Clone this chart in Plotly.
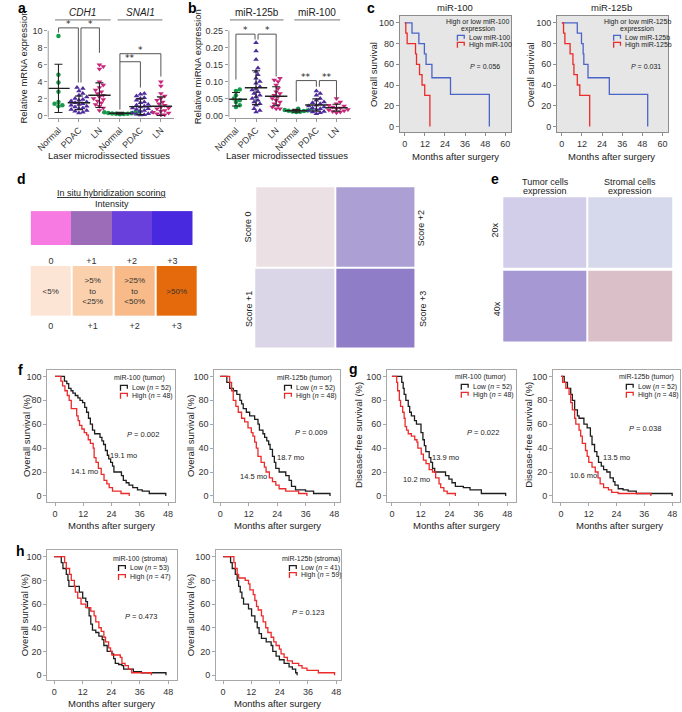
import plotly.graph_objects as go

W, H = 682, 712
FONT = "Liberation Sans, Arial, Helvetica, sans-serif"

# ---------------- data ----------------
# panel a: laser microdissected tissues, relative mRNA expression
a_ticks = ["Normal", "PDAC", "LN", "Normal", "PDAC", "LN"]
cdh1_normal = [9.4, 4.8, 3.9, 2.8, 1.6, 1.4, 1.2, 1.1]
cdh1_pdac = [3.3, 3.2, 2.9, 2.6, 2.4, 2.2, 2.0, 1.9, 1.8, 1.7, 1.6, 1.5,
             1.4, 1.3, 1.2, 1.1, 1.0, 0.9, 0.8, 0.7, 0.6, 0.5, 0.4, 0.3]
cdh1_ln = [6.0, 5.8, 5.5, 4.0, 3.6, 3.3, 3.0, 2.8, 2.6, 2.4, 2.2, 2.0,
           1.9, 1.7, 1.5, 1.3, 1.1, 0.9, 0.6]
snai1_normal = [0.45, 0.4, 0.35, 0.3, 0.28, 0.25, 0.22, 0.2, 0.18, 0.15]
snai1_pdac = [2.6, 2.5, 2.3, 2.1, 2.0, 1.8, 1.6, 1.5, 1.3, 1.2, 1.1, 1.0,
              0.9, 0.8, 0.7, 0.6, 0.5, 0.4, 0.3, 0.2, 0.15, 0.1, 0.05]
snai1_ln = [4.0, 3.5, 2.6, 2.3, 2.0, 1.8, 1.6, 1.4, 1.2, 1.0, 0.9, 0.8,
            0.6, 0.5, 0.4, 0.3, 0.2, 0.1, 0.05]
a_means = [3.2, 1.5, 2.4, 0.27, 1.05, 1.1]
a_sds = [2.85, 0.8, 1.45, 0.1, 0.95, 1.1]

# panel b: relative miRNA expression
mir125_normal = [0.077, 0.072, 0.06, 0.05, 0.045, 0.04, 0.03, 0.025]
mir125_pdac = [0.215, 0.19, 0.165, 0.14, 0.13, 0.12, 0.11, 0.1, 0.095, 0.085,
               0.08, 0.075, 0.07, 0.065, 0.06, 0.055, 0.05, 0.045, 0.04,
               0.035, 0.03, 0.02, 0.015, 0.01]
mir125_ln = [0.11, 0.105, 0.1, 0.09, 0.08, 0.07, 0.065, 0.06, 0.055, 0.05,
             0.045, 0.04, 0.035, 0.03, 0.025, 0.02, 0.02]
mir100_normal = [0.02, 0.018, 0.016, 0.015, 0.014, 0.013, 0.012, 0.011, 0.01]
mir100_pdac = [0.072, 0.065, 0.06, 0.05, 0.045, 0.04, 0.038, 0.035, 0.03,
               0.028, 0.025, 0.022, 0.02, 0.018, 0.015, 0.012, 0.01, 0.008,
               0.005]
mir100_ln = [0.05, 0.04, 0.035, 0.03, 0.028, 0.025, 0.022, 0.02, 0.018,
             0.016, 0.014, 0.012, 0.01, 0.008]
b_means = [0.048, 0.082, 0.057, 0.014, 0.031, 0.023]
b_sds = [0.02, 0.05, 0.028, 0.004, 0.018, 0.01]

# panel c: overall survival, laser microdissected cohort
c1_low_t = [0, 4.3, 8.4, 11.7, 12.7, 16.2, 27.3, 50.5]
c1_low_s = [100, 90, 80, 70, 60, 47, 31, 0]
c1_high_t = [0, 0.6, 1.4, 6.4, 7.0, 8.8, 10.3, 11.9, 15.0]
c1_high_s = [100, 90, 80, 70, 60, 50, 40, 30, 0]
c2_low_t = [0, 9.2, 11.7, 12.7, 13.1, 15.6, 28.3, 51.2]
c2_low_s = [100, 90, 80, 70, 60, 47, 31, 0]
c2_high_t = [0, 1.0, 1.8, 4.9, 6.6, 7.2, 9.2, 10.7, 16.6]
c2_high_s = [100, 90, 80, 70, 60, 50, 40, 30, 0]

# panel d: scoring scale
intensity_scores = ["0", "+1", "+2", "+3"]
percent_labels = ["<5%", ">5%<br>to<br><25%", ">25%<br>to<br><50%", ">50%"]

# panel f: overall survival by tumor expression
f1_low_t = [0, 4.0, 5.0, 5.8, 6.8, 7.6, 8.6, 9.7, 10.6, 11.7, 12.6, 13.4, 14.2,
            15.0, 15.9, 16.8, 19.1, 19.9, 20.6, 21.4, 22.2, 22.8, 23.6, 24.4,
            25.0, 28.2, 29.0, 30.2, 31.4, 33.0, 35.0, 37.0, 40.0, 47.0]
f1_low_s = [100, 96, 94, 90, 88, 86, 84, 82, 80, 78, 74, 70, 65, 60, 55, 52,
            49, 46, 43, 38, 34, 31, 28, 25, 20, 17, 13, 11, 9, 7, 5, 4, 2, 0]
f1_high_t = [0, 2.5, 3.2, 4.2, 5.2, 6.0, 6.9, 9.2, 9.8, 10.4, 11.4, 12.4, 13.4,
             14.1, 15.0, 16.2, 16.6, 17.4, 18.4, 19.6, 20.8, 22.0, 23.0, 24.4,
             28.0, 31.5]
f1_high_s = [100, 96, 92, 88, 84, 80, 73, 67, 63, 59, 56, 53, 51, 47, 44, 40,
             32, 28, 23, 18, 13, 10, 7, 4, 2, 0]
f2_low_t = [0, 2.8, 4.0, 5.5, 7.0, 8.3, 9.0, 9.7, 11.0, 12.4, 14.5, 15.9, 16.5,
            18.0, 18.7, 19.6, 20.4, 21.0, 22.0, 22.8, 23.4, 24.8, 27.6, 29.0,
            30.0, 31.7, 35.9, 39.3, 46.2]
f2_low_s = [100, 95, 90, 88, 85, 80, 77, 73, 70, 67, 64, 60, 55, 52, 49, 46,
            43, 39, 33, 28, 23, 20, 17, 13, 8, 5, 4, 2, 0]
f2_high_t = [0, 4.0, 4.8, 5.5, 6.6, 7.6, 9.0, 10.3, 11.7, 13.1, 13.8, 14.5,
             15.2, 15.9, 17.2, 18.6, 19.3, 20.7, 22.0, 23.4, 24.8, 27.6, 33.0,
             36.5]
f2_high_s = [100, 95, 88, 80, 75, 70, 65, 62, 57, 53, 50, 45, 40, 33, 28, 24,
             20, 15, 12, 9, 6, 4, 2, 0]

# panel g: disease-free survival by tumor expression
g1_low_t = [0, 4.1, 4.7, 5.1, 5.8, 6.8, 7.4, 8.1, 9.4, 10.2, 12.1, 12.9, 13.5,
            14.1, 15.5, 16.2, 16.9, 17.8, 22.3, 23.7, 25.0, 26.4, 29.7, 32.5,
            37.2, 47.3]
g1_low_s = [100, 95, 90, 85, 80, 75, 70, 67, 63, 60, 53, 47, 42, 37, 32, 28,
            23, 20, 17, 14, 11, 8, 7, 5, 2, 0]
g1_high_t = [0, 2.0, 2.4, 3.1, 3.6, 4.5, 5.1, 5.5, 6.1, 6.8, 8.1, 9.5, 10.4,
             10.8, 12.2, 13.1, 14.2, 15.5, 16.9, 18.2, 19.6, 20.3, 21.6, 23.0,
             26.4]
g1_high_s = [100, 95, 88, 80, 75, 70, 65, 58, 55, 52, 50, 47, 45, 40, 35, 30,
             27, 22, 20, 15, 10, 7, 4, 2, 0]
g2_low_t = [0, 1.4, 2.8, 4.2, 4.9, 5.9, 7.1, 7.8, 9.9, 11.3, 12.7, 13.4, 14.5,
            15.5, 16.2, 17.4, 18.4, 19.8, 21.2, 22.6, 23.3, 24.7, 26.8, 29.0,
            32.5, 48.0]
g2_low_s = [100, 95, 90, 85, 80, 72, 67, 65, 60, 57, 50, 43, 37, 33, 28, 25,
            22, 20, 15, 12, 9, 6, 5, 4, 2, 0]
g2_high_t = [0, 0.7, 2.1, 3.5, 4.2, 4.9, 5.9, 6.4, 7.8, 8.5, 9.2, 10.6, 11.3,
             12.0, 13.4, 14.8, 16.0, 16.9, 18.4, 20.5, 21.9, 24.7, 38.8]
g2_high_s = [100, 95, 90, 85, 78, 72, 65, 60, 55, 50, 44, 38, 33, 28, 24, 20,
             15, 10, 7, 5, 3, 2, 0]

# panel h: overall survival by stromal expression
h1_low_t = [0, 3.0, 3.7, 5.1, 5.8, 6.2, 10.6, 12.0, 13.3, 14.0, 14.7, 15.4,
            16.1, 17.5, 18.8, 20.2, 20.9, 22.3, 24.3, 25.0, 25.7, 27.1, 28.5,
            29.2, 33.3, 36.7, 47.0]
h1_low_s = [100, 95, 90, 85, 80, 75, 70, 65, 62, 57, 50, 43, 38, 36, 33, 30,
            25, 20, 18, 14, 10, 9, 8, 5, 3, 2, 0]
h1_high_t = [0, 4.4, 5.1, 6.5, 7.2, 8.5, 8.9, 9.9, 11.3, 13.3, 15.4, 16.8,
             17.5, 18.8, 19.8, 20.9, 21.6, 22.9, 23.7, 24.3, 27.8, 28.5, 29.8,
             31.2, 32.6, 40.9]
h1_high_s = [100, 95, 90, 85, 80, 75, 70, 65, 60, 57, 54, 50, 45, 40, 37, 32,
             28, 23, 20, 17, 15, 10, 8, 5, 2, 0]
h2_low_t = [0, 3.2, 3.9, 5.2, 6.0, 6.6, 7.3, 8.0, 8.7, 10.8, 12.1, 13.5, 14.5,
            15.3, 16.3, 18.3, 20.4, 21.1, 22.5, 23.9, 25.9, 28.0, 29.4, 30.8,
            31.4]
h2_low_s = [100, 95, 90, 85, 80, 75, 70, 65, 60, 56, 50, 45, 40, 35, 31, 28,
            25, 20, 16, 13, 10, 7, 5, 2, 0]
h2_high_t = [0, 4.6, 5.2, 6.0, 6.6, 9.4, 10.8, 11.4, 12.8, 13.5, 14.2, 14.9,
             16.3, 17.0, 18.1, 19.0, 20.4, 21.5, 22.5, 23.9, 24.6, 25.9, 27.3,
             29.4, 32.1, 33.5, 35.6, 40.4, 47.3]
h2_high_s = [100, 95, 90, 85, 82, 80, 77, 72, 68, 63, 58, 55, 50, 45, 40, 36,
             32, 28, 25, 22, 18, 15, 12, 10, 8, 6, 4, 2, 0]

# ---------------- helpers ----------------
fig = go.Figure()
layout = dict(width=W, height=H, margin=dict(l=0, r=0, t=0, b=0),
              paper_bgcolor="white", plot_bgcolor="white", showlegend=False,
              font=dict(family=FONT, size=9, color="#222"))
shapes = []
annotations = []

GREEN, PURPLE, MAGENTA = "#169a4c", "#4e2c9c", "#c8267a"
BLACK, RED, BLUE = "#1e1e1e", "#ec2a2a", "#4a64c8"


def xid(n):
    return "x" if n == 1 else f"x{n}"


def yid(n):
    return "y" if n == 1 else f"y{n}"


def set_axes(n, box, xa, ya):
    x0, x1, y0, y1 = box
    xa.update(domain=[x0 / W, x1 / W], anchor=yid(n))
    ya.update(domain=[1 - y1 / H, 1 - y0 / H], anchor=xid(n))
    layout["xaxis" if n == 1 else f"xaxis{n}"] = xa
    layout["yaxis" if n == 1 else f"yaxis{n}"] = ya


def txt(s, x, y, size=9, angle=0, xanchor="center", color="#222", bold=False):
    if bold:
        s = f"<b>{s}</b>"
    annotations.append(dict(text=s, x=x / W, y=1 - y / H, xref="paper",
                            yref="paper", showarrow=False, textangle=angle,
                            xanchor=xanchor, yanchor="middle",
                            font=dict(size=size, family=FONT, color=color)))


def pline(x0, y0, x1, y1, color="#555", width=1):
    shapes.append(dict(type="line", xref="paper", yref="paper",
                       x0=x0 / W, y0=1 - y0 / H, x1=x1 / W, y1=1 - y1 / H,
                       line=dict(color=color, width=width)))


def prect(x0, y0, x1, y1, fill):
    shapes.append(dict(type="rect", xref="paper", yref="paper",
                       x0=x0 / W, y0=1 - y1 / H, x1=x1 / W, y1=1 - y0 / H,
                       fillcolor=fill, line=dict(width=0)))


def icon(x, y, color):
    def p(px_, py_):
        return f"{px_ / W:.5f},{1 - py_ / H:.5f}"
    path = f"M{p(x, y + 3)} L{p(x, y - 2.5)} L{p(x + 7, y - 2.5)} L{p(x + 7, y + 1)}"
    shapes.append(dict(type="path", xref="paper", yref="paper", path=path,
                       line=dict(color=color, width=1.3)))


def bracket(n, xl, xr, top, yl, yr):
    shapes.append(dict(type="path", xref=xid(n), yref=yid(n),
                       path=f"M{xl},{yl} L{xl},{top} L{xr},{top} L{xr},{yr}",
                       line=dict(color="#555", width=1)))


def stars(n, pos):
    for xs, ys, k in pos:
        annotations.append(dict(text="*" * k, x=xs, y=ys, xref=xid(n), yref=yid(n),
                                showarrow=False,
                                font=dict(size=9, family="DejaVu Sans", color="#222")))


def swarm(vals, ppu_y, ppu_x=21.0, gap=3.6, step=2.0):
    placed, offs = [], [0.0] * len(vals)
    cands = [0.0]
    for k in range(1, 30):
        cands += [k * step, -k * step]
    for i in sorted(range(len(vals)), key=lambda j: vals[j]):
        yy = vals[i] * ppu_y
        for c in cands:
            if all((c - a) ** 2 + (yy - b) ** 2 >= gap ** 2 for a, b in placed):
                break
        placed.append((c, yy))
        offs[i] = c / ppu_x
    return offs


def dot_panel(n, box, xr, yr, groups, means, sds, ytick, yfmt, ppu_y, ymax):
    sym = ["circle", "triangle-up", "triangle-down"] * 2
    col = [GREEN, PURPLE, MAGENTA] * 2
    for k, vals in enumerate(groups):
        offs = swarm(vals, ppu_y)
        fig.add_trace(go.Scatter(
            x=[k + o for o in offs], y=vals, mode="markers",
            marker=dict(symbol=sym[k], size=4.5 if k % 3 == 0 else 5, color=col[k]),
            xaxis=xid(n), yaxis=yid(n), hoverinfo="skip"))
    fig.add_trace(go.Scatter(
        x=list(range(6)), y=means, mode="markers",
        marker=dict(symbol="line-ew", size=16, line=dict(width=1.4, color="#222")),
        error_y=dict(type="data", array=sds, visible=True, color="#222",
                     thickness=1.1, width=4),
        xaxis=xid(n), yaxis=yid(n), hoverinfo="skip"))
    axc = dict(showgrid=False, zeroline=False, ticks="outside", ticklen=3,
               tickcolor="#999", tickfont=dict(size=9, color="#333"))
    set_axes(n, box,
             dict(range=xr, tickvals=list(range(6)), ticktext=a_ticks,
                  tickangle=-45, showline=True, linecolor="#999", **axc),
             dict(range=yr, tickvals=ytick, tickformat=yfmt, showline=False, **axc))
    shapes.append(dict(type="line", xref=f"{xid(n)} domain", yref=yid(n),
                       x0=0, x1=0, y0=yr[0], y1=ymax,
                       line=dict(color="#999", width=1)))


AX_KM = dict(showgrid=False, zeroline=False, ticks="outside", ticklen=3,
             showline=True, mirror=True, linewidth=1,
             tickfont=dict(size=9, color="#333"))


def km_panel(n, box, xr, yr, curves, xmax=48, frame="#a8a8a8", bg=None):
    set_axes(n, box,
             dict(range=xr, tickvals=list(range(0, xmax + 1, 12)),
                  linecolor=frame, tickcolor=frame, **AX_KM),
             dict(range=yr, tickvals=[0, 20, 40, 60, 80, 100],
                  linecolor=frame, tickcolor=frame, **AX_KM))
    if bg:
        shapes.append(dict(type="rect", xref=f"{xid(n)} domain",
                           yref=f"{yid(n)} domain", x0=0, x1=1, y0=0, y1=1,
                           fillcolor=bg, line=dict(width=0), layer="below"))
    for t, s, c in curves:
        fig.add_trace(go.Scatter(x=t, y=s, mode="lines",
                                 line=dict(shape="hv", color=c, width=1.3),
                                 xaxis=xid(n), yaxis=yid(n), hoverinfo="skip"))


# ---------------- panel a ----------------
dot_panel(1, (33, 162, 20, 118), [-0.5, 5.65], [-0.235, 11.29],
          [cdh1_normal, cdh1_pdac, cdh1_ln, snai1_normal, snai1_pdac, snai1_ln],
          a_means, a_sds, [0, 2, 4, 6, 8, 10], None, 8.5, 10)
bracket(1, 0, 0.97, 10.35, 9.8, 3.9)
bracket(1, 1.1, 2, 10.35, 3.9, 7.4)
bracket(1, 3, 4, 6.35, 0.7, 3.3)
bracket(1, 3, 5, 7.3, 6.35, 4.6)
stars(1, [(0.5, 10.75, 1), (1.55, 10.75, 1), (3.5, 6.75, 2), (4.0, 7.7, 1)])
txt("<i>CDH1</i>", 68, 13, size=10)
txt("<i>SNAI1</i>", 127, 13, size=10)
pline(40, 20, 97, 20, "#777")
pline(104, 20, 150, 20, "#777")
txt("Relative mRNA expression", 8, 67, size=9.5, angle=-90)
txt("Laser microdissected tissues", 95, 156, size=9.5)

# ---------------- panel b ----------------
dot_panel(2, (218, 343, 20, 118), [-0.35, 5.72], [-0.0059, 0.282],
          [mir125_normal, mir125_pdac, mir125_ln, mir100_normal, mir100_pdac, mir100_ln],
          b_means, b_sds, [0, 0.05, 0.1, 0.15, 0.2, 0.25], ".2f", 340, 0.25)
bracket(2, 0, 0.95, 0.24, 0.106, 0.224)
bracket(2, 1.1, 2, 0.24, 0.224, 0.115)
bracket(2, 3, 4, 0.103, 0.041, 0.085)
bracket(2, 4.15, 5, 0.103, 0.085, 0.047)
stars(2, [(0.5, 0.252, 1), (1.55, 0.252, 1), (3.5, 0.114, 2), (4.55, 0.114, 2)])
txt("miR-125b", 247, 13, size=10)
txt("miR-100", 308, 13, size=10)
pline(219, 20, 274, 20, "#777")
pline(285, 20, 332, 20, "#777")
txt("Relative miRNA expression", 186, 67, size=9.5, angle=-90)
txt("Laser microdissected tissues", 277, 156, size=9.5)

# ---------------- panel c ----------------
km_panel(3, (393, 507, 16, 133), [-3, 63.5], [-5.8, 106.7],
         [(c1_low_t, c1_low_s, BLUE), (c1_high_t, c1_high_s, RED)],
         xmax=60, frame="#8c8c8c", bg="#e6e6e6")
km_panel(4, (554, 668, 16, 133), [-2.9, 63.5], [-5.8, 106.7],
         [(c2_low_t, c2_low_s, BLUE), (c2_high_t, c2_high_s, RED)],
         xmax=60, frame="#8c8c8c", bg="#e6e6e6")
txt("miR-100", 450, 8, size=9.5)
txt("miR-125b", 610, 8, size=9.5)
txt("Overall survival", 366, 75, size=9.5, angle=-90)
txt("Overall survival", 527, 75, size=9.5, angle=-90)
txt("Months after surgery", 450, 157, size=9.5)
txt("Months after surgery", 610, 157, size=9.5)
for cx, tag, px0 in [(473, "miR-100", 452), (636, "miR-125b", 612)]:
    txt(f"High or low {tag}", cx, 22, size=7)
    txt("expression", cx, 29, size=7)
    icon(px0, 38, BLUE)
    icon(px0, 45, RED)
    txt(f"Low {tag}", px0 + 10, 38, size=7, xanchor="left")
    txt(f"High {tag}", px0 + 10, 45, size=7, xanchor="left")
txt("<i>P</i> = 0.056", 480, 67, size=7)
txt("<i>P</i> = 0.031", 645, 67, size=7)

# ---------------- panel d ----------------
top_colors = ["#f67ae2", "#9d6cb8", "#6a40dc", "#4829e0"]
bot_colors = ["#fce5d4", "#fad0ad", "#f7ba88", "#e46a0b"]


def steps(cols):
    return [[i / (len(cols) - 1), c] for i, c in enumerate(cols)]


fig.add_trace(go.Heatmap(z=[[0, 1, 2, 3]], x=[0, 1, 2, 3], colorscale=steps(top_colors),
                         zmin=0, zmax=3, showscale=False, hoverinfo="skip",
                         xaxis="x5", yaxis="y5"))
fig.add_trace(go.Heatmap(z=[[0, 1, 2, 3]], x=[0, 1, 2, 3], colorscale=steps(bot_colors),
                         zmin=0, zmax=3, showscale=False, hoverinfo="skip", xgap=2,
                         text=[percent_labels], texttemplate="%{text}",
                         textfont=dict(size=8, color="#333"),
                         xaxis="x6", yaxis="y6"))
for n, box, tl in [(5, (15, 181, 212, 246), 7), (6, (14, 186, 267, 317), 2)]:
    set_axes(n, box,
             dict(tickvals=[0, 1, 2, 3], ticktext=intensity_scores, ticks="outside",
                  ticklen=tl, tickcolor="rgba(0,0,0,0)", showline=False,
                  showgrid=False, zeroline=False, tickfont=dict(size=9, color="#333")),
             dict(visible=False))
txt("<u>In situ hybridization scoring</u>", 98, 194, size=9)
txt("Intensity", 98, 205, size=9)

# micrograph placeholders (d and e)
for x0, y0, x1, y1, c in [(246, 188, 326, 268, "#ebe1e5"), (328, 188, 408, 268, "#ab9fd3"),
                          (245, 270, 326, 349, "#dbd5e8"), (328, 270, 408, 349, "#8f7dc7"),
                          (499, 198, 584, 269, "#d2cde8"), (586, 198, 672, 269, "#d6d9ec"),
                          (499, 272, 584, 343, "#a598d3"), (586, 272, 672, 343, "#dbbfc8")]:
    prect(x0, y0, x1, y1, c)
txt("Score 0", 238, 228, size=9, angle=-90)
txt("Score +1", 238, 310, size=9, angle=-90)
txt("Score +2", 415, 229, size=9, angle=-90)
txt("Score +3", 416, 310, size=9, angle=-90)

# ---------------- panel e ----------------
txt("Tumor cells", 542, 183, size=9)
txt("expression", 542, 192, size=9)
txt("Stromal cells", 629, 183, size=9)
txt("expression", 629, 192, size=9)
txt("20x", 491, 231, size=9, angle=-90)
txt("40x", 492, 310, size=9, angle=-90)

# ---------------- panels f, g, h ----------------
km_panel(7, (32, 163, 372, 504), [-3.3, 51], [-5, 105],
         [(f1_low_t, f1_low_s, BLACK), (f1_high_t, f1_high_s, RED)])
km_panel(8, (203, 332, 372, 504), [-2.5, 50.5], [-5, 105],
         [(f2_low_t, f2_low_s, BLACK), (f2_high_t, f2_high_s, RED)])
km_panel(9, (380, 512, 372, 504), [-2, 51.6], [-5, 105],
         [(g1_low_t, g1_low_s, BLACK), (g1_high_t, g1_high_s, RED)])
km_panel(10, (550, 680, 372, 504), [-3.4, 51.4], [-5, 105],
         [(g2_low_t, g2_low_s, BLACK), (g2_high_t, g2_high_s, RED)])
km_panel(11, (32, 165, 552, 683), [-2.9, 51.7], [-4.2, 105.9],
         [(h1_low_t, h1_low_s, BLACK), (h1_high_t, h1_high_s, RED)])
km_panel(12, (205, 333, 552, 683), [-2.9, 50.1], [-4.2, 105.9],
         [(h2_low_t, h2_low_s, BLACK), (h2_high_t, h2_high_s, RED)])

for x, y, s in [(10, 438, "Overall survival (%)"), (178, 438, "Overall survival (%)"),
                (350, 437, "Disease-free survival (%)"), (524, 437, "Disease-free survival (%)"),
                (9, 618, "Overall survival (%)"), (179, 618, "Overall survival (%)")]:
    txt(s, x, y, size=9.5, angle=-90)
for x, y in [(98, 528), (268, 528), (451, 528), (618, 528), (98, 706), (268, 706)]:
    txt("Months after surgery", x, y, size=9.5)

# legends inside the survival panels
for cx, ty, tag, ix, n_low, n_high, dy in [
        (126, 380, "miR-100 (tumor)", 107, 52, 48, 8),
        (295, 380, "miR-125b (tumor)", 275, 52, 48, 8),
        (476, 379, "miR-100 (tumor)", 456, 52, 48, 8),
        (646, 379, "miR-125b (tumor)", 625, 52, 48, 8),
        (127, 561, "miR-100 (stroma)", 105, 53, 47, 9),
        (302, 561, "miR-125b (stroma)", 280, 41, 59, 7)]:
    txt(tag, cx, ty, size=7)
    icon(ix, ty + 9.5, BLACK)
    icon(ix, ty + 9.5 + dy, RED)
    txt(f"Low (<i>n</i> = {n_low})", ix + 9.5, ty + 9.5, size=7, xanchor="left")
    txt(f"High (<i>n</i> = {n_high})", ix + 9.5, ty + 9.5 + dy, size=7, xanchor="left")

for x, y, s in [(130, 436, "<i>P</i> = 0.002"), (302, 434, "<i>P</i> = 0.009"),
                (478, 434, "<i>P</i> = 0.022"), (644, 430, "<i>P</i> = 0.038"),
                (128, 619, "<i>P</i> = 0.473"), (299, 615, "<i>P</i> = 0.123")]:
    txt(s, x, y, size=7.5)
for x, y, s in [(110, 457, "19.1 mo"), (70, 473, "14.1 mo"),
                (281, 459, "18.7 mo"), (243, 479, "14.5 mo"),
                (440, 459, "13.9 mo"), (410, 482, "10.2 mo"),
                (615, 459, "13.5 mo"), (581, 478, "10.6 mo")]:
    txt(s, x, y, size=7.5)

# panel letters
for s, x, y in [("a", 6, 8), ("b", 181, 8), ("c", 364, 8), ("d", 6, 180),
                ("e", 491, 180), ("f", 5, 372), ("g", 346, 371), ("h", 5, 553)]:
    txt(s, x, y, size=14, bold=True, color="#000")

layout["shapes"] = shapes
layout["annotations"] = annotations
fig.update_layout(**layout)
fig.write_html("out.html", config={"displayModeBar": False},
               post_script="document.body.style.margin='0';"
                           "document.body.style.overflow='hidden';")
